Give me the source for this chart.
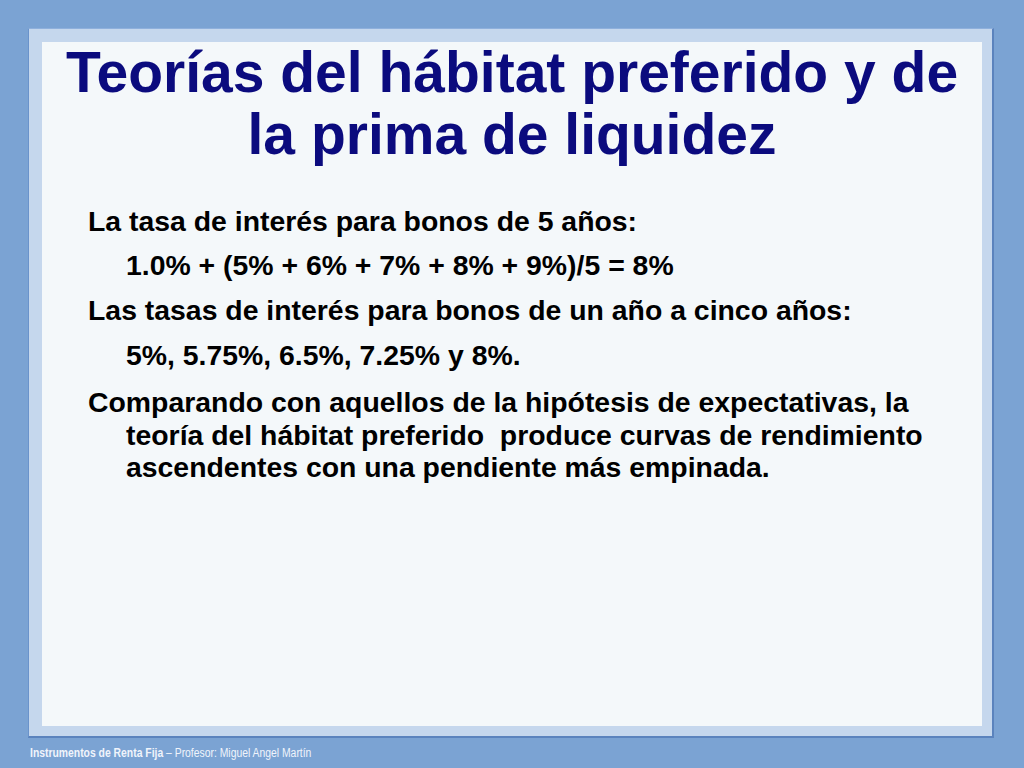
<!DOCTYPE html>
<html>
<head>
<meta charset="utf-8">
<script src="https://cdn.jsdelivr.net/npm/chart.js@4"></script>
<style>
  html, body { margin: 0; padding: 0; }
  body { width: 1024px; height: 768px; background: #7ba3d3; position: relative; overflow: hidden;
         font-family: "Liberation Sans", Arial, sans-serif; }
  #frame { position: absolute; left: 28px; top: 28px; width: 966px; height: 710px; background: #c5d7ed;
           border-left: 1px solid #6a93cb; border-top: 1px solid #8fb0dc;
           border-right: 2px solid #5b83bd; border-bottom: 2px solid #5b83bd; box-sizing: border-box; }
  #panel { position: absolute; left: 42px; top: 42px; width: 940px; height: 684px; background: #f4f8fa; }
  #title { position: absolute; left: 42px; top: 41px; width: 940px; text-align: center; color: #0b0b7e;
           font-weight: bold; font-size: 57px; line-height: 62px; }
  .line { position: absolute; font-weight: bold; font-size: 28.4px; line-height: 28px; color: #000; white-space: pre; }
  #footer { position: absolute; left: 30px; top: 746px; font-size: 12.5px; color: #f0f4fb; white-space: pre;
            transform: scaleX(0.83); transform-origin: 0 0; }
  #footer b { font-weight: bold; }
</style>
</head>
<body>
<div id="frame"></div>
<div id="panel"></div>
<div id="title"></div>
<div id="body"></div>
<div id="footer"><b>Instrumentos de Renta Fija</b> – Profesor: Miguel Angel Martín</div>
<script>
// slide content
const titleLines = ['Teorías del hábitat preferido y de', 'la prima de liquidez'];
const spotRates = [5, 6, 7, 8, 9];
const liquidityPremium = 1.0;
const yieldLabels = ['5%', '5.75%', '6.5%', '7.25%', '8%'];

const bodyLines = [
    { text: 'La tasa de interés para bonos de 5 años:', x: 88, base: 231 },
    { text: liquidityPremium.toFixed(1) + '% + (' + spotRates.map(r => r + '%').join(' + ') + ')/5 = 8%', x: 126, base: 275 },
    { text: 'Las tasas de interés para bonos de un año a cinco años:', x: 88, base: 320 },
    { text: yieldLabels.slice(0, 4).join(', ') + ' y ' + yieldLabels[4] + '.', x: 126, base: 365 },
    { text: 'Comparando con aquellos de la hipótesis de expectativas, la', x: 88, base: 412 },
    { text: 'teoría del hábitat preferido  produce curvas de rendimiento', x: 126, base: 445 },
    { text: 'ascendentes con una pendiente más empinada.', x: 126, base: 477 }
];

document.getElementById('title').innerHTML = titleLines.join('<br>');

const bodyEl = document.getElementById('body');
bodyLines.forEach(l => {
    const div = document.createElement('div');
    div.className = 'line';
    div.textContent = l.text;
    div.style.left = l.x + 'px';
    // baseline sits ~24px below the top of a 28px line box
    div.style.top = (l.base - 24) + 'px';
    bodyEl.appendChild(div);
});
</script>
</body>
</html>
